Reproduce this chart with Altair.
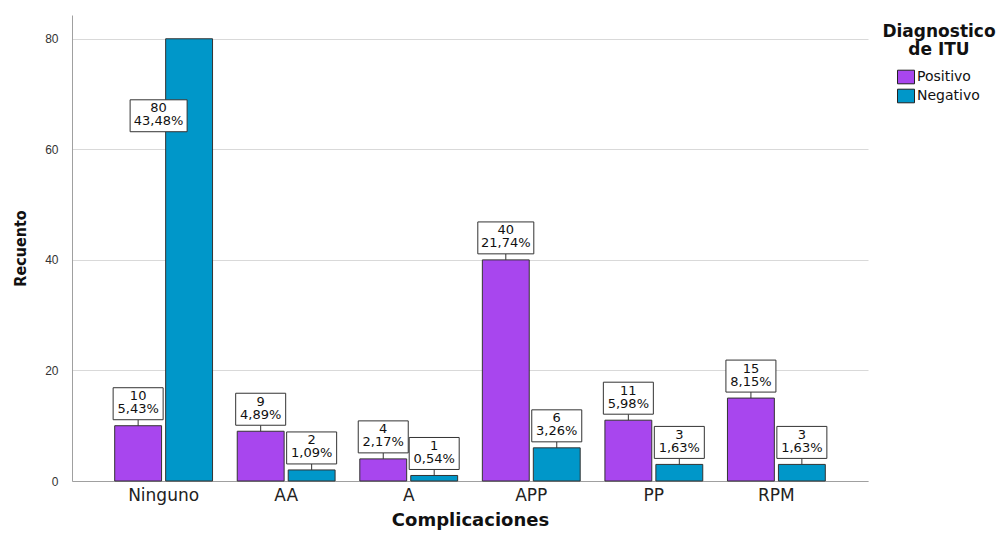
import altair as alt
import pandas as pd

categories = ["Ninguno", "AA", "A", "APP", "PP", "RPM"]
series = ["Positivo", "Negativo"]
positivo = [10, 9, 4, 40, 11, 15]
negativo = [80, 2, 1, 6, 3, 3]
pct_pos = ["5,43%", "4,89%", "2,17%", "21,74%", "5,98%", "8,15%"]
pct_neg = ["43,48%", "1,09%", "0,54%", "3,26%", "1,63%", "1,63%"]
y_ticks = [0, 20, 40, 60, 80]
colors = ["#A846EE", "#0097C9"]

rows = []
for i, c in enumerate(categories):
    rows.append({"cat": c, "serie": "Positivo", "count": positivo[i],
                 "pct": pct_pos[i], "label": f"{positivo[i]}\n{pct_pos[i]}"})
    rows.append({"cat": c, "serie": "Negativo", "count": negativo[i],
                 "pct": pct_neg[i], "label": f"{negativo[i]}\n{pct_neg[i]}"})
df = pd.DataFrame(rows)

inside = (alt.datum.cat == "Ninguno") & (alt.datum.serie == "Negativo")
outside = ~inside
wide = alt.expr.length(alt.datum.pct) > 5

XC = alt.X("cat:N", sort=categories)
x = alt.X("cat:N", sort=categories, title="Complicaciones",
          scale=alt.Scale(paddingInner=0.185, paddingOuter=0.34),
          axis=alt.Axis(labelAngle=0, ticks=False, grid=False, labelFontSize=17,
                        labelFont="DejaVu Sans", labelColor="#222", labelPadding=6,
                        titleFont="DejaVu Sans", titleFontSize=18, titleFontWeight="bold",
                        titleColor="#111", titlePadding=8, domainColor="#a0a0a0"))
xo = alt.XOffset("serie:N", sort=series,
                 scale=alt.Scale(paddingInner=0.08, paddingOuter=0.02))
y = alt.Y("count:Q", title="Recuento",
          scale=alt.Scale(domain=[0, 84.3], nice=False, zero=True),
          axis=alt.Axis(values=y_ticks, ticks=False, grid=True, gridColor="#d9d9d9",
                        labelFontSize=12, labelFont="Liberation Sans", labelColor="#333",
                        labelPadding=14, domainColor="#a0a0a0",
                        titleFont="Liberation Sans Narrow, DejaVu Sans Condensed, Arial Narrow, Liberation Sans",
                        titleFontSize=16,
                        titleFontWeight="bold", titleColor="#111", titlePadding=16))
color = alt.Color("serie:N", sort=series,
                  scale=alt.Scale(domain=series, range=colors),
                  legend=alt.Legend(title=None, orient="none", legendX=825, legendY=53,
                                    symbolType="M-1,-0.8H1V0.8H-1Z", symbolSize=289,
                                    symbolStrokeColor="#222", symbolStrokeWidth=1,
                                    labelFont="DejaVu Sans", labelFontSize=14,
                                    labelColor="#111", labelOffset=2, rowPadding=1))

base = alt.Chart(df)

bars = base.mark_bar(stroke="#333", strokeWidth=1).encode(x=x, xOffset=xo, y=y, color=color)

leaders = base.transform_filter(outside).mark_rule(color="#333", strokeWidth=1, y2Offset=-6).encode(
    x=XC, xOffset=xo, y="count:Q", y2="count:Q")

box_style = dict(filled=False, fill="white", fillOpacity=1, stroke="#333",
                 strokeWidth=1, opacity=1)

boxes_narrow = base.transform_filter(outside).transform_filter(~wide).mark_point(
    shape="M-1,-0.64H1V0.64H-1Z", size=2500, yOffset=-22, **box_style).encode(
    x=XC, xOffset=xo, y="count:Q")

boxes_wide = base.transform_filter(outside).transform_filter(wide).mark_point(
    shape="M-1,-0.57H1V0.57H-1Z", size=3136, yOffset=-22, **box_style).encode(
    x=XC, xOffset=xo, y="count:Q")

text_style = dict(lineBreak="\n", fontSize=13, font="DejaVu Sans", color="#111",
                  baseline="top", align="center", lineHeight=13)

texts = base.transform_filter(outside).mark_text(yOffset=-35.5, **text_style).encode(
    x=XC, xOffset=xo, y="count:Q", text="label:N")

box_in = base.transform_filter(inside).mark_point(
    shape="M-1,-0.56H1V0.56H-1Z", size=3249, xOffset=-5, yOffset=77, **box_style).encode(
    x=XC, y="count:Q")

text_in = base.transform_filter(inside).mark_text(dx=-5, yOffset=63.5, **text_style).encode(
    x=XC, y="count:Q", text="label:N")

legend_title = alt.Chart(pd.DataFrame({"t": ["Diagnostico\nde ITU"]})).mark_text(
    lineBreak="\n", fontSize=17, font="DejaVu Sans", fontWeight="bold", color="#111",
    align="center", baseline="top", lineHeight=18).encode(
    x=alt.value(867), y=alt.value(9), text="t:N")

chart = alt.layer(bars, leaders, boxes_narrow, boxes_wide, texts, box_in, text_in,
                  legend_title).properties(
    width=796, height=466,
    autosize=alt.AutoSizeParams(type="none"),
    padding={"left": 64, "top": 7, "right": 130, "bottom": 52},
).configure(background="white").configure_view(strokeOpacity=0, strokeWidth=0)

chart.save("out.html", embed_options={"renderer": "svg", "actions": False})
